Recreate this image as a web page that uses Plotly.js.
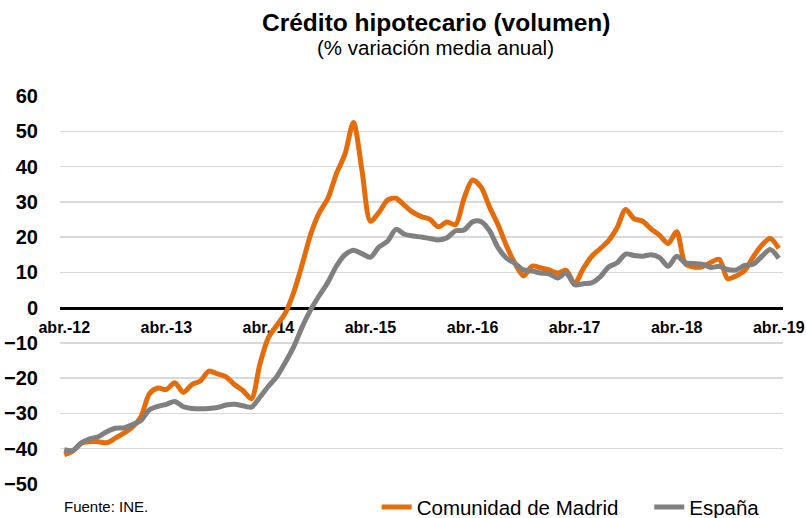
<!DOCTYPE html>
<html>
<head>
<meta charset="utf-8">
<script src="https://cdn.plot.ly/plotly-3.0.1.min.js"></script>
<style>html,body{margin:0;padding:0;background:#fff;}#chart{width:806px;height:518px;}</style>
</head>
<body>
<div id="chart"></div>
<script>
// Monthly categories: abr.-2012 .. abr.-2019 (85 months)
const months = [];
for (let y = 2012; y <= 2019; y++) {
  for (let m = 1; m <= 12; m++) {
    if (y === 2012 && m < 4) continue;
    if (y === 2019 && m > 4) continue;
    months.push(y + '-' + String(m).padStart(2, '0'));
  }
}
const tickVals = ['2012-04','2013-04','2014-04','2015-04','2016-04','2017-04','2018-04','2019-04'];
const tickText = ['abr.-12','abr.-13','abr.-14','abr.-15','abr.-16','abr.-17','abr.-18','abr.-19'];

const madrid = [
  -41.7,-40.7,-38.4,-38.0,-38.0,-38.3,-37.0,-35.6,-33.9,-31.0,
  -24.5,-22.8,-23.2,-21.3,-24.0,-21.8,-20.8,-18.0,-18.8,-19.6,
  -21.8,-23.5,-25.8,-16.0,-8.5,-5.0,-1.5,4.5,12.5,21.0,
  27.0,31.0,38.0,43.5,52.5,39.0,24.5,27.0,30.5,31.0,
  29.0,27.0,25.8,25.0,22.9,24.3,23.5,31.0,36.2,34.2,
  28.5,23.5,17.5,12.5,9.0,11.8,11.3,10.7,9.8,10.6,
  6.8,11.0,14.5,16.7,19.0,22.7,27.8,25.2,24.5,22.3,
  20.5,18.2,21.5,12.5,11.5,11.6,12.8,13.7,8.2,9.0,
  10.5,14.4,17.7,19.6,16.8
];
const espana = [
  -40.3,-40.5,-38.4,-37.2,-36.6,-35.2,-34.2,-34.1,-33.2,-32.0,
  -29.0,-28.0,-27.4,-26.6,-28.1,-28.6,-28.7,-28.6,-28.3,-27.6,
  -27.4,-27.8,-28.2,-25.4,-22.3,-19.5,-15.5,-11.0,-5.3,-0.5,
  3.5,7.2,11.8,15.0,16.3,15.3,14.3,17.2,18.8,22.2,
  20.8,20.3,20.0,19.6,19.2,19.8,21.8,22.0,24.3,24.4,
  21.8,17.0,14.0,12.5,10.7,10.4,9.8,9.6,8.4,9.8,
  6.5,6.8,7.0,8.7,11.5,12.7,15.2,14.8,14.6,15.0,
  14.2,11.7,14.6,12.7,12.5,12.3,11.4,11.7,10.8,10.7,
  12.0,12.3,14.5,16.5,14.0
];

const FONT = '"Liberation Sans", Arial, Helvetica, sans-serif';

const traces = [
  {x: months, y: madrid, name: 'Comunidad de Madrid', type: 'scatter', mode: 'lines', legend: 'legend',
   line: {color: '#E46C0A', width: 5, shape: 'spline', smoothing: 0.8}},
  {x: months, y: espana, name: 'España', type: 'scatter', mode: 'lines', legend: 'legend2',
   line: {color: '#808080', width: 5, shape: 'spline', smoothing: 0.8}}
];

const legendBase = {orientation: 'h', y: -0.06, xanchor: 'left', yanchor: 'middle',
  font: {family: FONT, size: 20.5, color: '#000'}, bgcolor: 'rgba(0,0,0,0)', itemwidth: 30};

const layout = {
  width: 806, height: 518,
  margin: {l: 60, r: 23, t: 96, b: 34, autoexpand: false},
  paper_bgcolor: '#ffffff', plot_bgcolor: '#ffffff',
  font: {family: FONT, color: '#000000'},
  showlegend: true,
  legend: Object.assign({}, legendBase, {x: 0.438}),
  legend2: Object.assign({}, legendBase, {x: 0.815}),
  xaxis: {type: 'category', range: [-0.5, 84.5], anchor: 'free', position: 50/110,
          showgrid: false, showline: true, linecolor: '#000000', linewidth: 3, layer: 'below traces',
          tickmode: 'array', tickvals: tickVals, ticktext: tickText, ticks: '',
          ticklabelstandoff: 4,
          tickfont: {family: FONT, size: 16, color: '#000', weight: 'bold'}, zeroline: false},
  yaxis: {range: [-50, 60], dtick: 10, tick0: 0, showgrid: true, gridcolor: '#D9D9D9', gridwidth: 1.5,
          zeroline: false, showline: false, ticks: '', ticklabelstandoff: 21,
          tickfont: {family: FONT, size: 20, color: '#000', weight: 'bold'}},
  annotations: [
    {text: '<b>Crédito hipotecario (volumen)</b>', xref: 'paper', yref: 'paper', x: 0.52, y: 1.19,
     xanchor: 'center', yanchor: 'middle', showarrow: false, font: {family: FONT, size: 24.5, color: '#000'}},
    {text: '(% variación media anual)', xref: 'paper', yref: 'paper', x: 0.52, y: 1.124,
     xanchor: 'center', yanchor: 'middle', showarrow: false, font: {family: FONT, size: 20.5, color: '#000'}},
    {text: 'Fuente: INE.', xref: 'paper', yref: 'paper', x: 0.003, y: -0.059,
     xanchor: 'left', yanchor: 'middle', showarrow: false, font: {family: FONT, size: 15, color: '#000'}}
  ]
};

Plotly.newPlot('chart', traces, layout, {displayModeBar: false, staticPlot: true});
</script>
</body>
</html>
